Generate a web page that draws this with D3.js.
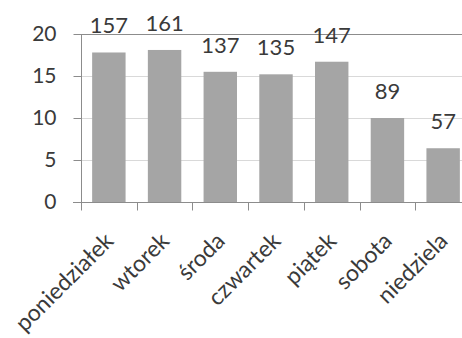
<!DOCTYPE html>
<html><head><meta charset="utf-8">
<script src="https://cdn.jsdelivr.net/npm/d3@7"></script>
<style>html,body{margin:0;padding:0;background:#fff;overflow:hidden}</style>
</head><body>
<svg id="c" width="462" height="338"></svg>
<script>
const days = ["poniedziałek","wtorek","środa","czwartek","piątek","sobota","niedziela"];
const percents = [17.8, 18.1, 15.5, 15.2, 16.7, 10.0, 6.4];
const counts = [157, 161, 137, 135, 147, 89, 57];
const yTicks = [0, 5, 10, 15, 20];

const svg = d3.select("#c");
const font = "Lato, 'Open Sans', sans-serif";
const x = d3.scaleBand().domain(days).range([81, 471]).paddingInner(0.4).paddingOuter(0.2);
const y = d3.scaleLinear().domain([0, 20]).range([202, 34]);

// gridlines
svg.append("g").selectAll("line").data(yTicks.filter(d => d > 0)).join("line")
  .attr("x1", 81).attr("x2", 471)
  .attr("y1", d => Math.round(y(d)) + 0.5).attr("y2", d => Math.round(y(d)) + 0.5)
  .attr("stroke", d => d === 20 ? "#8c8c8c" : "#d9d9d9").attr("stroke-width", 1.2);

// bars
svg.append("g").selectAll("rect").data(days).join("rect")
  .attr("x", d => x(d)).attr("width", x.bandwidth())
  .attr("y", (d, i) => y(percents[i])).attr("height", (d, i) => y(0) - y(percents[i]))
  .attr("fill", "#a5a5a5");

// y axis
const yAxis = svg.append("g").attr("transform", "translate(81.5,0)")
  .call(d3.axisLeft(y).tickValues(yTicks).tickSize(8).tickPadding(17));
yAxis.select(".domain").attr("stroke", "#8c8c8c").attr("d", `M0,${y(20)}V${y(0)}`);
yAxis.selectAll(".tick line").attr("stroke", "#8c8c8c");
yAxis.selectAll("text").attr("font-family", font).attr("font-size", 21).attr("fill", "#3a3a3a");

// x axis
const xAxis = svg.append("g").attr("transform", "translate(0,202.5)");
xAxis.append("line").attr("x1", 73).attr("x2", 471).attr("stroke", "#8c8c8c").attr("stroke-width", 1.2);
const edges = days.map(d => x(d) - x.step() * x.paddingInner() / 2);
xAxis.selectAll("line.t").data(edges).join("line").attr("class", "t")
  .attr("x1", d => Math.round(d) + 0.5).attr("x2", d => Math.round(d) + 0.5)
  .attr("y1", 0).attr("y2", 8).attr("stroke", "#8c8c8c");
xAxis.selectAll("text").data(days).join("text")
  .attr("transform", d => `translate(${x(d) + x.bandwidth() / 2 + 6},40) rotate(-45)`)
  .attr("text-anchor", "end")
  .attr("font-family", font).attr("font-size", 23).attr("fill", "#3a3a3a")
  .text(d => d);

// value labels
svg.append("g").selectAll("text").data(days).join("text")
  .attr("x", d => x(d) + x.bandwidth() / 2)
  .attr("y", (d, i) => y(percents[i]) - 19)
  .attr("text-anchor", "middle")
  .attr("font-family", font).attr("font-size", 22).attr("fill", "#3a3a3a")
  .text((d, i) => counts[i]);
</script>
</body></html>
